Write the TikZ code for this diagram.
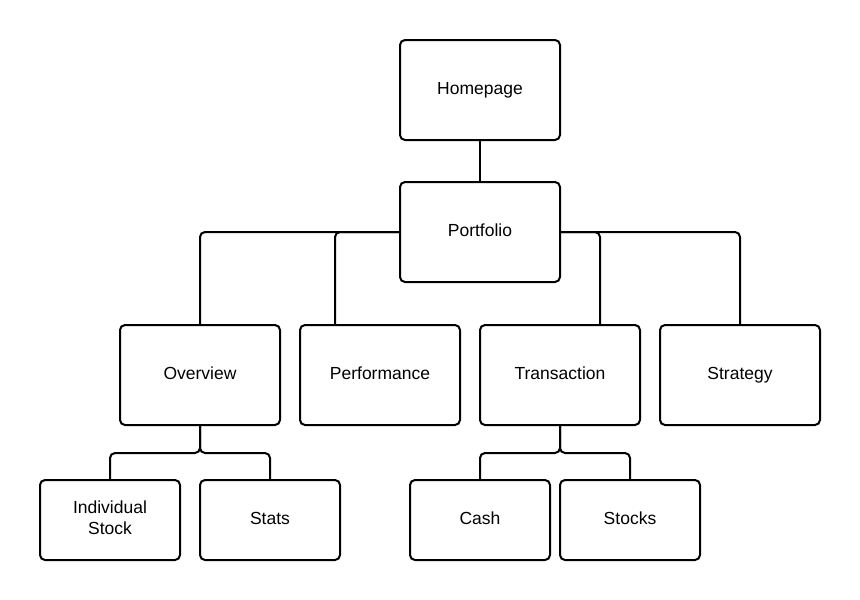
\documentclass[tikz,border=0pt]{standalone}
\usepackage{fontspec}
\setmainfont{Liberation Sans}
\begin{document}
\begin{tikzpicture}[x=1pt,y=-1pt,
  box/.style={draw=black,line width=2pt,rounded corners=5pt,inner sep=0pt,
    minimum width=160pt,minimum height=100pt,align=center,
    font=\fontsize{17.5}{21}\selectfont},
  smallbox/.style={box,minimum width=140pt,minimum height=80pt},
  conn/.style={draw=black,line width=2pt,rounded corners=5pt}]
\useasboundingbox (0,0) rectangle (860,600);
\node[box] (hp) at (480,90) {\strut Homepage};
\node[box] (pf) at (480,232) {\strut Portfolio};
\node[box] (ov) at (200,375) {\strut Overview};
\node[box] (perf) at (380,375) {\strut Performance};
\node[box] (tr) at (560,375) {\strut Transaction};
\node[box] (st) at (740,375) {\strut Strategy};
\node[smallbox] (is) at (110,520) {\strut Individual\\\strut Stock};
\node[smallbox] (stats) at (270,520) {\strut Stats};
\node[smallbox] (cash) at (480,520) {\strut Cash};
\node[smallbox] (stocks) at (630,520) {\strut Stocks};
\coordinate (perfin) at ([xshift=-45pt]perf.north);
\coordinate (trin) at ([xshift=40pt]tr.north);
\path[conn] (hp.south) -- (pf.north);
\path[conn] (pf.west) -| (ov.north);
\path[conn] (pf.west) -| (perfin);
\path[conn] (pf.east) -| (trin);
\path[conn] (pf.east) -| (st.north);
\path[conn] (ov.south) -- ++(0,27) -| (is.north);
\path[conn] (ov.south) -- ++(0,27) -| (stats.north);
\path[conn] (tr.south) -- ++(0,27) -| (cash.north);
\path[conn] (tr.south) -- ++(0,27) -| (stocks.north);
\end{tikzpicture}
\end{document}
